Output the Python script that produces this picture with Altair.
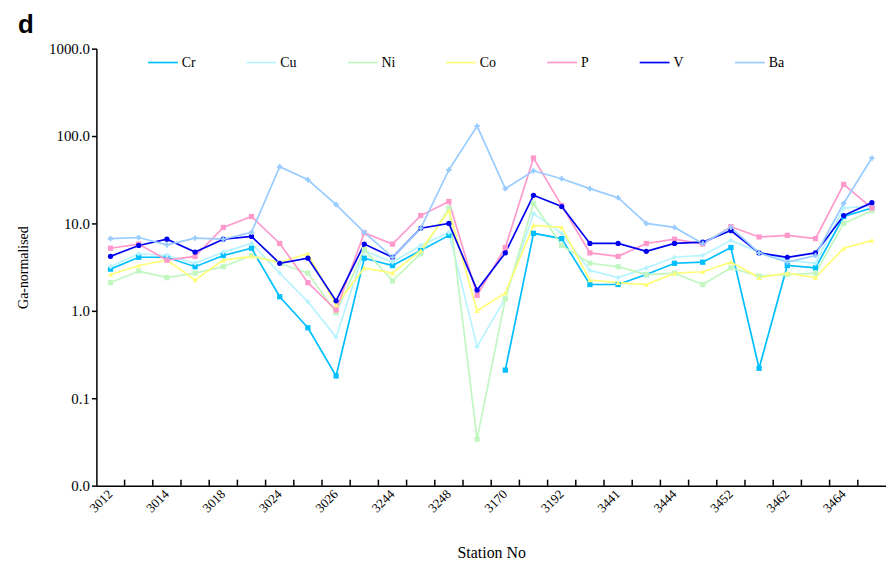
import altair as alt
import pandas as pd

stations = ["3012", "3013", "3014", "3016", "3018", "3020", "3024", "3025", "3026", "3028",
            "3244", "3246", "3248", "3250", "3170", "3180", "3192", "3194", "3441", "3442",
            "3444", "3446", "3452", "3460", "3462", "3463", "3464", "3466"]
shown_labels = ["3012", "3014", "3018", "3024", "3026", "3244", "3248", "3170", "3192",
                "3441", "3444", "3452", "3462", "3464"]

elements = ["Cr", "Cu", "Ni", "Co", "P", "V", "Ba"]
colors = ["#00BFFF", "#B8F4FF", "#C2F7C2", "#FFFF7A", "#FF99CC", "#0000F0", "#99CCFF"]
shapes = ["square", "diamond", "square", "triangle-up", "square", "circle", "cross"]
widths = [1.7, 1.7, 1.7, 1.7, 1.7, 2.3, 1.7]

cr = [3.0, 4.1, 4.1, 3.2, 4.3, 5.2, 1.45, 0.64, 0.18, 4.0, 3.3, 4.9, 7.3, None, 0.21, 7.7,
      6.7, 2.0, 2.0, 2.6, 3.5, 3.6, 5.3, 0.22, 3.3, 3.1, 12, 15]
cu = [3.2, 4.5, 4.3, 3.5, 4.7, 5.9, 2.7, 1.27, 0.5, 4.9, 3.6, 5.6, 7.9, 0.39, 1.4, 13,
      7.7, 2.9, 2.4, 3.1, 4.1, 4.3, 6.4, 4.7, 3.8, 3.5, 15, 16]
ni = [2.1, 2.85, 2.4, 2.7, 3.2, 4.3, 3.5, 2.7, 0.95, 5.0, 2.2, 4.5, 15, 0.034, 1.37, 17,
      5.6, 3.5, 3.2, 2.6, 2.7, 2.0, 3.1, 2.5, 2.6, 2.7, 10, 14]
co = [2.6, 3.3, 3.8, 2.25, 3.8, 4.2, 3.6, 4.5, 1.17, 3.1, 2.7, 4.9, 14, 1.0, 1.6, 9.5,
      9.0, 2.25, 2.1, 2.0, 2.7, 2.8, 3.6, 2.4, 2.7, 2.4, 5.2, 6.4]
p = [5.2, 5.8, 3.8, 4.2, 9.0, 12, 5.9, 2.1, 1.02, 7.8, 5.8, 12.3, 17.8, 1.5, 5.3, 56,
     16, 4.6, 4.2, 5.9, 6.6, 5.8, 9.2, 7.0, 7.3, 6.7, 28, 15]
v = [4.2, 5.6, 6.6, 4.7, 6.6, 7.1, 3.5, 4.0, 1.3, 5.8, 4.1, 8.8, 10, 1.73, 4.6, 21,
     15.6, 5.9, 5.9, 4.8, 5.9, 6.1, 8.3, 4.6, 4.1, 4.6, 12.3, 17.3]
ba = [6.7, 6.9, 5.7, 6.8, 6.6, 7.9, 44.6, 31.6, 16.4, 7.9, 4.1, 8.8, 41, 130, 25, 40,
      32.5, 25, 19.7, 10, 9, 5.9, 9, 4.6, 3.6, 4.3, 17, 56]

series = dict(zip(elements, [cr, cu, ni, co, p, v, ba]))
rows = []
for name in elements:
    for i, (s, val) in enumerate(zip(stations, series[name])):
        rows.append({"Station": s, "idx": i, "Element": name, "Element2": name, "Value": val})
df = pd.DataFrame(rows)
tick_df = pd.DataFrame({"Station": stations[1:]})

label_list = "[" + ",".join("'" + s + "'" for s in shown_labels) + "]"

xscale = alt.Scale(type="band", paddingInner=0, paddingOuter=0, domain=stations)
x = alt.X("Station:N", sort=stations, bandPosition=0.5, scale=xscale,
          axis=alt.Axis(title="Station No", labelAngle=-45, ticks=False, labelPadding=6,
                        labelBaseline="middle", labelAlign="right",
                        labelExpr="indexof(" + label_list + ", datum.value) >= 0 ? datum.label : ''"))
y = alt.Y("Value:Q", scale=alt.Scale(type="log", domain=[0.01, 1000]),
          axis=alt.Axis(title="Ga-normalised", values=[0.01, 0.1, 1, 10, 100, 1000],
                        format=".1f", grid=False))
color = alt.Color("Element:N", sort=elements,
                  scale=alt.Scale(domain=elements, range=colors),
                  legend=alt.Legend(title=None, orient="none", direction="horizontal",
                                    columns=7, legendX=51, legendY=-2, symbolType="stroke",
                                    symbolSize=900, symbolStrokeWidth=2, columnPadding=47,
                                    labelFontSize=14, labelOffset=3))

lines = alt.Chart(df).mark_line(invalid="break-paths-show-domains").encode(
    x=x, y=y, color=color,
    strokeWidth=alt.StrokeWidth("Element:N", scale=alt.Scale(domain=elements, range=widths), legend=None),
    order=alt.Order("idx:Q"),
)
points = alt.Chart(df).mark_point(filled=True, size=28, opacity=1).encode(
    x=x, y=y,
    color=alt.Color("Element2:N", scale=alt.Scale(domain=elements, range=colors), legend=None),
    shape=alt.Shape("Element2:N", scale=alt.Scale(domain=elements, range=shapes), legend=None),
)
xticks = alt.Chart(tick_df).mark_rule(color="black", strokeWidth=1.5).encode(
    x=alt.X("Station:N", sort=stations, bandPosition=0, scale=xscale),
    y=alt.value(440), y2=alt.value(434),
)

chart = alt.layer(lines, points, xticks).resolve_scale(
    color="independent", shape="independent", strokeWidth="independent"
).properties(
    width=795, height=440,
    padding={"left": 89, "top": 39, "right": 0, "bottom": 78},
    autosize=alt.AutoSizeParams(type="none"),
    title=alt.TitleParams("d", anchor="start", dx=-79, offset=4, font="Liberation Sans",
                          fontSize=26, fontWeight="bold", frame="group", color="black"),
).configure(font="Liberation Serif").configure_view(stroke=None).configure_axis(
    domainColor="black", domainWidth=1.5, tickColor="black", tickWidth=1.5, tickSize=5,
    labelColor="black", titleColor="black", labelFont="Liberation Serif",
    titleFont="Liberation Serif", titleFontWeight="normal",
).configure_axisY(titlePadding=18, labelFontSize=15, titleFontSize=14).configure_axisX(
    titlePadding=30, labelFontSize=13, titleFontSize=16).configure_legend(
    labelFont="Liberation Serif", labelColor="black")

chart.save("out.html", embed_options={"renderer": "svg", "actions": False})
